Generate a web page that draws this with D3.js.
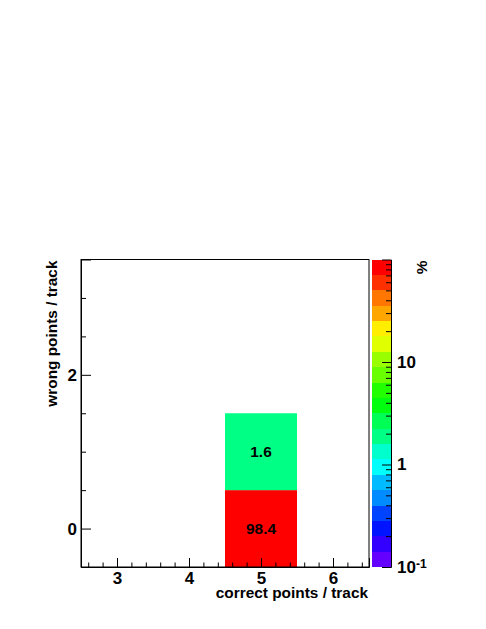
<!DOCTYPE html>
<html>
<head>
<meta charset="utf-8">
<script src="https://cdn.jsdelivr.net/npm/d3@7"></script>
<style>
  body { margin: 0; background: #fff; }
  svg { display: block; font-family: "Liberation Sans", Arial, sans-serif; font-weight: bold; }
</style>
</head>
<body>
<svg width="486" height="629"></svg>
<script>
// bin contents (percent of tracks)
const binX = [5, 5];
const binY = [0, 1];
const percent = [98.4, 1.6];

// axis ticks
const xMajor = [3, 4, 5, 6];
const yMajor = [0, 2];
const zMajor = [0.1, 1, 10];
const zMinor = [0.2, 0.3, 0.4, 0.5, 0.6, 0.7, 0.8, 0.9, 2, 3, 4, 5, 6, 7, 8, 9, 20, 30, 40, 50, 60, 70, 80, 90];

const xTitle = "correct points / track";
const yTitle = "wrong points / track";
const zTitle = "%";

// frame geometry
const frameLeft = 81, frameRight = 369, frameTop = 259.5, frameBottom = 567;
const palLeft = 371.5, palRight = 391;
const nLevels = 20;
const zMin = 0.1, zMax = 100;

const svg = d3.select("svg");
svg.append("rect").attr("width", 486).attr("height", 629).attr("fill", "#fff");

const x = d3.scaleLinear().domain([2.5, 6.5]).range([frameLeft, frameRight]);
const y = d3.scaleLinear().domain([-0.5, 3.5]).range([frameBottom, frameTop]);
const z = d3.scaleLog().domain([zMin, zMax]).range([frameBottom, frameTop]);

// ROOT style "pretty palette" violet -> red, 50 colours, 20 contour levels
function levelColor(j) {
  const idx = Math.floor((j + 0.99) * 50 / nLevels);
  const hue = 280 - (idx + 1) * 5.6;
  return d3.hsl(hue, 1, 0.5).formatHex();
}
const logStep = (Math.log10(zMax) - Math.log10(zMin)) / nLevels;
function valueColor(v) {
  let j = Math.floor((Math.log10(v) - Math.log10(zMin)) / logStep);
  j = Math.max(0, Math.min(nLevels - 1, j));
  return levelColor(j);
}

// bins
const bins = binX.map((bx, i) => ({ x: bx, y: binY[i], v: percent[i] }));
svg.append("g").selectAll("rect")
  .data(bins)
  .enter().append("rect")
  .attr("x", d => x(d.x - 0.5))
  .attr("y", d => y(d.y + 0.5))
  .attr("width", d => x(d.x + 0.5) - x(d.x - 0.5))
  .attr("height", d => y(d.y - 0.5) - y(d.y + 0.5))
  .attr("fill", d => valueColor(d.v));

svg.append("g").selectAll("text")
  .data(bins)
  .enter().append("text")
  .attr("x", d => x(d.x))
  .attr("y", d => y(d.y))
  .attr("dy", "0.36em")
  .attr("text-anchor", "middle")
  .attr("font-size", 15.4)
  .attr("fill", "#000")
  .text(d => d.v.toFixed(1));

// frame
svg.append("rect")
  .attr("x", frameLeft).attr("y", frameTop)
  .attr("width", frameRight - frameLeft).attr("height", frameBottom - frameTop)
  .attr("fill", "none").attr("stroke", "#000").attr("stroke-width", 1);

// x axis: minor + major ticks pointing inward
const xMinorVals = d3.range(26, 65, 2).map(v => v / 10).filter(v => !xMajor.includes(v));
svg.append("g")
  .attr("transform", `translate(0,${frameBottom})`)
  .call(d3.axisBottom(x).tickValues(xMinorVals).tickSize(-4.5).tickFormat(""))
  .call(g => g.select(".domain").remove());
const xAxis = svg.append("g")
  .attr("transform", `translate(0,${frameBottom})`)
  .call(d3.axisBottom(x).tickValues(xMajor).tickSize(-9).tickPadding(5).tickFormat(d3.format("d")));
xAxis.select(".domain").attr("stroke", "#000");
xAxis.selectAll("text").attr("font-size", 17).attr("font-family", null).attr("fill", "#000");

// y axis
const yMinorVals = d3.range(0, 7).map(v => v / 2).filter(v => !yMajor.includes(v));
svg.append("g")
  .attr("transform", `translate(${frameLeft},0)`)
  .call(d3.axisLeft(y).tickValues(yMinorVals).tickSize(-5).tickFormat(""))
  .call(g => g.select(".domain").remove());
const yAxis = svg.append("g")
  .attr("transform", `translate(${frameLeft},0)`)
  .call(d3.axisLeft(y).tickValues(yMajor).tickSize(-10).tickPadding(4).tickFormat(d3.format("d")));
yAxis.select(".domain").attr("stroke", "#000");
yAxis.selectAll("text").attr("font-size", 17).attr("font-family", null).attr("fill", "#000");

// palette
const levels = d3.range(nLevels);
const edge = j => Math.pow(10, Math.log10(zMin) + j * logStep);
svg.append("g").selectAll("rect")
  .data(levels)
  .enter().append("rect")
  .attr("x", palLeft)
  .attr("width", palRight - palLeft)
  .attr("y", j => z(edge(j + 1)))
  .attr("height", j => z(edge(j)) - z(edge(j + 1)))
  .attr("fill", j => levelColor(j))
  .attr("shape-rendering", "crispEdges");

svg.append("g")
  .attr("transform", `translate(${palRight},0)`)
  .call(d3.axisRight(z).tickValues(zMinor).tickSize(-5).tickFormat(""))
  .call(g => g.select(".domain").remove());
const zAxis = svg.append("g")
  .attr("transform", `translate(${palRight},0)`)
  .call(d3.axisRight(z).tickValues(zMajor).tickSize(-9).tickPadding(6).tickFormat(""));
zAxis.select(".domain").attr("stroke", "#000");
zAxis.selectAll(".tick text").each(function(d) {
  const t = d3.select(this).attr("font-size", 17).attr("font-family", null).attr("fill", "#000");
  const e = Math.round(Math.log10(d));
  if (e >= 0) {
    t.text(String(Math.pow(10, e)));
  } else {
    t.text("10");
    t.append("tspan").attr("dy", "-0.45em").attr("font-size", 12).text(String(e));
  }
});

// titles
svg.append("text")
  .attr("x", frameRight - 1).attr("y", 598)
  .attr("text-anchor", "end")
  .attr("font-size", 15.4)
  .text(xTitle);

svg.append("text")
  .attr("transform", `translate(57,${frameTop + 1}) rotate(-90)`)
  .attr("text-anchor", "end")
  .attr("font-size", 15.4)
  .text(yTitle);

svg.append("text")
  .attr("transform", `translate(427,${frameTop + 1}) rotate(-90)`)
  .attr("text-anchor", "end")
  .attr("font-size", 15.4)
  .text(zTitle);
</script>
</body>
</html>
